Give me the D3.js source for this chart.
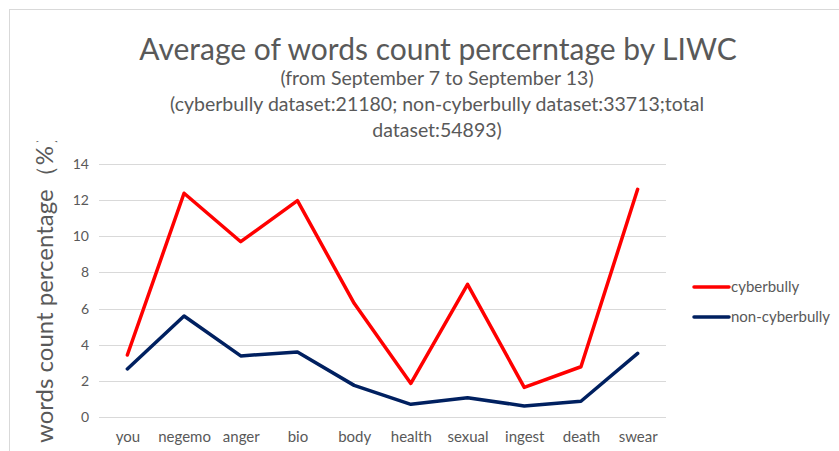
<!DOCTYPE html>
<html>
<head>
<meta charset="utf-8">
<script src="https://cdn.jsdelivr.net/npm/d3@7"></script>
<style>
  body { margin: 0; background: #fff; }
  text { font-family: Lato, "Open Sans", sans-serif; }
</style>
</head>
<body>
<svg id="chart"></svg>
<script>
var categories = ["you", "negemo", "anger", "bio", "body", "health", "sexual", "ingest", "death", "swear"];
var cyberbully = [3.43, 12.38, 9.70, 11.97, 6.29, 1.86, 7.34, 1.64, 2.78, 12.6];
var nonCyberbully = [2.66, 5.59, 3.38, 3.60, 1.75, 0.70, 1.07, 0.61, 0.87, 3.52];
var yTicks = [0, 2, 4, 6, 8, 10, 12, 14];
var seriesNames = ["cyberbully", "non-cyberbully"];
var seriesColors = ["#ff0000", "#002060"];

var width = 839, height = 451;
var margin = { top: 164, right: 173, bottom: 34, left: 99 };

var svg = d3.select("#chart")
  .attr("width", width)
  .attr("height", height);

svg.append("rect")
  .attr("width", width).attr("height", height)
  .attr("fill", "#fff");

// chart frame
svg.append("rect")
  .attr("x", 9.5).attr("y", 9.5)
  .attr("width", width).attr("height", height)
  .attr("fill", "none")
  .attr("stroke", "#d9d9d9");

var x = d3.scalePoint()
  .domain(categories)
  .range([margin.left, width - margin.right])
  .padding(0.5);

var y = d3.scaleLinear()
  .domain([0, 14])
  .range([height - margin.bottom, margin.top]);

// gridlines
svg.append("g")
  .selectAll("line")
  .data(yTicks)
  .enter()
  .append("line")
  .attr("x1", margin.left)
  .attr("x2", width - margin.right)
  .attr("y1", function (d) { return Math.round(y(d)) + 0.5; })
  .attr("y2", function (d) { return Math.round(y(d)) + 0.5; })
  .attr("stroke", "#d9d9d9")
  .attr("stroke-width", 1);

var yAxis = svg.append("g")
  .attr("transform", "translate(" + (margin.left - 10) + ",0)")
  .call(d3.axisLeft(y).tickValues(yTicks).tickSize(0).tickPadding(0));
yAxis.select(".domain").remove();
yAxis.selectAll("text")
  .attr("fill", "#595959")
  .style("font-size", "14px");

var xAxis = svg.append("g")
  .attr("transform", "translate(0," + (height - margin.bottom) + ")")
  .call(d3.axisBottom(x).tickSize(0).tickPadding(14));
xAxis.select(".domain").remove();
xAxis.selectAll("text")
  .attr("fill", "#595959")
  .style("font-size", "15px");

var line = d3.line()
  .x(function (d, i) { return x(categories[i]); })
  .y(function (d) { return y(d); });

[cyberbully, nonCyberbully].forEach(function (s, i) {
  svg.append("path")
    .datum(s)
    .attr("d", line)
    .attr("fill", "none")
    .attr("stroke", seriesColors[i])
    .attr("stroke-width", 3.5)
    .attr("stroke-linejoin", "round")
    .attr("stroke-linecap", "round");
});

// legend
var legend = svg.append("g")
  .selectAll("g")
  .data(seriesNames)
  .enter()
  .append("g")
  .attr("transform", function (d, i) { return "translate(694," + (287 + i * 30) + ")"; });
legend.append("line")
  .attr("x1", 0).attr("x2", 35)
  .attr("stroke", function (d, i) { return seriesColors[i]; })
  .attr("stroke-width", 3.5)
  .attr("stroke-linecap", "round");
legend.append("text")
  .attr("x", 37).attr("dy", "0.35em")
  .attr("fill", "#595959")
  .style("font-size", "15px")
  .text(function (d) { return d; });

// titles
svg.append("text")
  .attr("x", 438).attr("y", 60)
  .attr("text-anchor", "middle")
  .attr("fill", "#595959")
  .style("font-size", "30px")
  .text("Average of words count percerntage by LIWC");

var subLines = ["(from September 7 to September 13)",
  "(cyberbully dataset:21180; non-cyberbully dataset:33713;total",
  "dataset:54893)"];
svg.append("g")
  .selectAll("text")
  .data(subLines)
  .enter()
  .append("text")
  .attr("x", 437)
  .attr("y", function (d, i) { return 85 + i * 26; })
  .attr("text-anchor", "middle")
  .attr("fill", "#595959")
  .style("font-size", "19.5px")
  .text(function (d) { return d; });

// y axis title, clipped at the top like the original
svg.append("clipPath")
  .attr("id", "yclip")
  .append("rect")
  .attr("x", 0).attr("y", 141).attr("width", 80).attr("height", 310);
svg.append("g")
  .attr("clip-path", "url(#yclip)")
  .append("text")
  .attr("transform", "translate(53,443) rotate(-90)")
  .attr("fill", "#595959")
  .style("font-size", "24px")
  .text("words count percentage（%）");
</script>
</body>
</html>
